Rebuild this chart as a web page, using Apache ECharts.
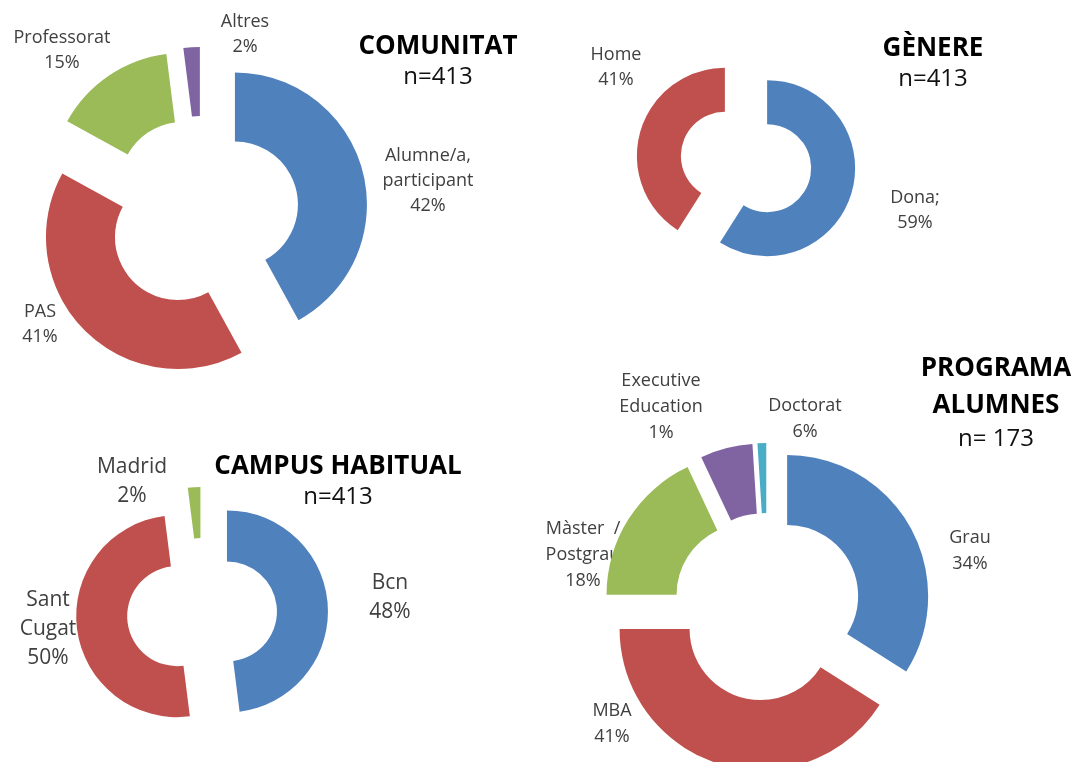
<!DOCTYPE html>
<html>
<head>
<meta charset="utf-8">
<script src="https://cdn.jsdelivr.net/npm/echarts@6/dist/echarts.min.js"></script>
<style>
  html, body { margin: 0; background: #fff; }
  #chart { width: 1076px; height: 762px; }
</style>
</head>
<body>
<div id="chart"></div>
<script>
// data
const comunitatNames = ['Alumne/a,\nparticipant', 'PAS', 'Professorat', 'Altres']
const comunitatValues = [42, 41, 15, 2]

const genereNames = ['Dona;', 'Home']
const genereValues = [59, 41]

const campusNames = ['Bcn', 'Sant\nCugat', 'Madrid']
const campusValues = [48, 50, 2]

const programaNames = ['Grau', 'MBA', 'Màster  /\nPostgrau', 'Executive\nEducation', 'Doctorat']
const programaValues = [34, 41, 18, 6, 1]
// percentages as printed in the source (last two don't match the slice sizes)
const programaPct = ['34%', '41%', '18%', '1%', '6%']

const colors = ['#4F81BD', '#C0504D', '#9BBB59', '#8064A2', '#4BACC6']

// label anchor points (px)
const comunitatLabelPos = [[428, 181], [40, 324], [62, 50], [245, 34]]
const genereLabelPos = [[915, 210], [616, 67]]
const campusLabelPos = [[390, 598], [48, 629], [132, 482]]
const programaLabelPos = [[970, 551], [612, 724], [583, 555], [661, 407], [805, 419]]

const FONT = 'Open Sans'

// exploded donut: every slice selected and pushed out by `offset`
function donut(names, values, center, radius, offset) {
  return {
    type: 'pie',
    center: center,
    radius: radius,
    startAngle: 90,
    selectedMode: 'multiple',
    selectedOffset: offset,
    silent: true,
    label: { show: false },
    labelLine: { show: false },
    data: names.map((n, i) => ({
      name: n,
      value: values[i],
      selected: true,
      itemStyle: { color: colors[i] }
    }))
  }
}

// invisible twin of the donut that only carries the labels
function donutLabels(names, values, center, radius, labelPos, font, pct) {
  return {
    type: 'pie',
    center: center,
    radius: radius,
    startAngle: 90,
    silent: true,
    avoidLabelOverlap: false,
    itemStyle: { color: 'rgba(0,0,0,0)' },
    label: {
      show: true,
      position: 'outside',
      formatter: p => p.name + '\n' + (pct ? pct[p.dataIndex] : p.value + '%'),
      fontFamily: FONT,
      fontSize: font[0],
      lineHeight: font[1],
      color: '#404040',
      align: 'center'
    },
    labelLine: { show: false },
    labelLayout: p => ({
      x: labelPos[p.dataIndex][0],
      y: labelPos[p.dataIndex][1],
      align: 'center',
      verticalAlign: 'middle'
    }),
    data: names.map((n, i) => ({ name: n, value: values[i] }))
  }
}

function heading(text, sub, x, y, lh) {
  return {
    text: text,
    subtext: sub,
    left: x,
    top: y,
    textAlign: 'center',
    itemGap: 0,
    textStyle: { fontFamily: FONT, fontSize: 26, fontWeight: 'bold', color: '#000', lineHeight: lh },
    subtextStyle: { fontFamily: FONT, fontSize: 24, color: '#111', lineHeight: 30 }
  }
}

const chart = echarts.init(document.getElementById('chart'))
chart.setOption({
  animation: false,
  title: [
    heading('COMUNITAT', 'n=413', 433, 27, 30),
    heading('GÈNERE', 'n=413', 928, 29, 30),
    heading('CAMPUS HABITUAL', 'n=413', 333, 447, 30),
    heading('PROGRAMA\nALUMNES', 'n= 173', 991, 345, 37)
  ],
  series: [
    donut(comunitatNames, comunitatValues, [202, 213], [63, 132], 34),
    donutLabels(comunitatNames, comunitatValues, [202, 213], [63, 132], comunitatLabelPos, [18, 25]),
    donut(genereNames, genereValues, [746, 162], [44, 88], 22),
    donutLabels(genereNames, genereValues, [746, 162], [44, 88], genereLabelPos, [18, 25]),
    donut(campusNames, campusValues, [202, 613], [50, 101], 25),
    donutLabels(campusNames, campusValues, [202, 613], [50, 101], campusLabelPos, [21, 29]),
    donut(programaNames, programaValues, [767, 607], [71, 141], 23),
    donutLabels(programaNames, programaValues, [767, 607], [71, 141], programaLabelPos, [18, 26], programaPct)
  ]
})
</script>
</body>
</html>
